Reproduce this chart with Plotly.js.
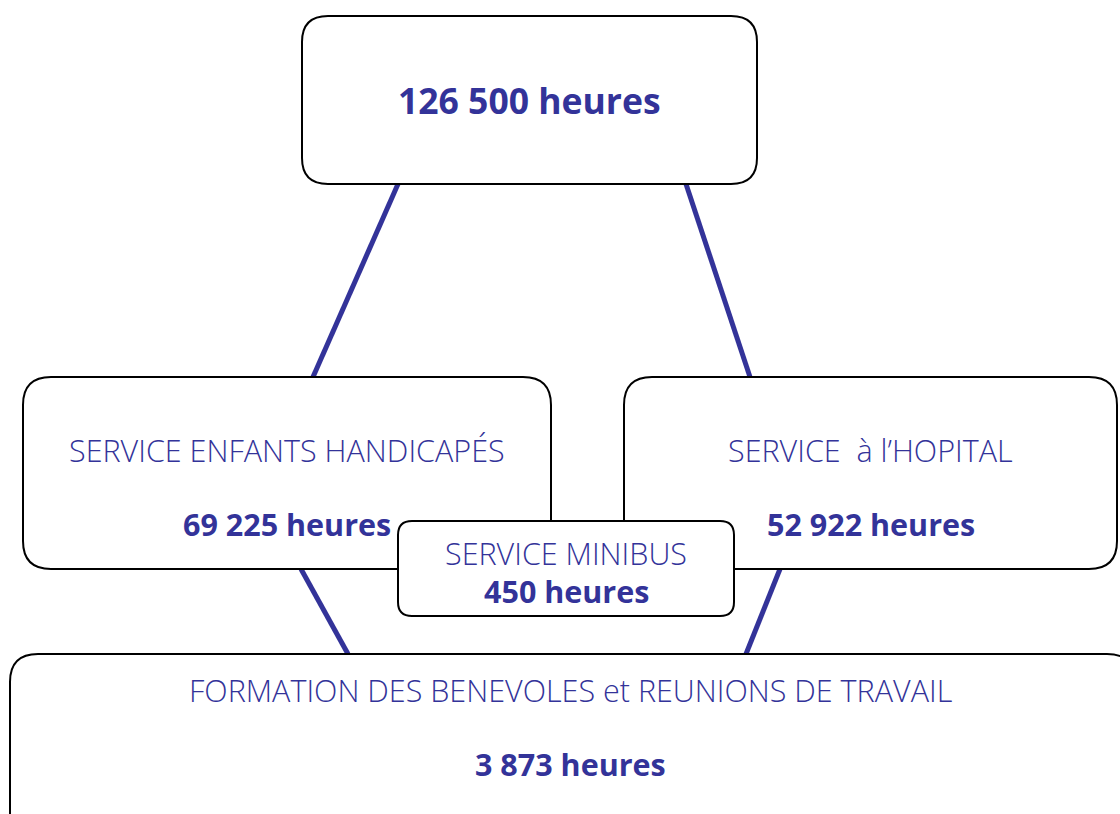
<!DOCTYPE html>
<html><head><meta charset="utf-8">
<script src="https://cdn.plot.ly/plotly-3.0.1.min.js"></script>
<style>html,body{margin:0;padding:0;background:#fff;}#chart{width:1120px;height:814px;}</style>
</head><body><div id="chart"></div>
<script>
// Data
const services = ["TOTAL", "SERVICE ENFANTS HANDICAPÉS", "SERVICE \u00a0à l’HOPITAL", "SERVICE MINIBUS", "FORMATION DES BENEVOLES et REUNIONS DE TRAVAIL"];
const showLabel = [false, true, true, true, true];
const hours = [126500, 69225, 52922, 450, 3873];
const unit = "heures";

// Layout geometry (pixel space of the 1120x814 page)
const boxes = [
  {x0: 302, y0: 16,  x1: 757,  y1: 184, r: 26, labelY: null, valueY: 100, valueSize: 35.5},
  {x0: 23,  y0: 377, x1: 551,  y1: 569, r: 28, labelY: 450,  valueY: 524, valueSize: 30.5},
  {x0: 624, y0: 377, x1: 1117, y1: 569, r: 28, labelY: 450,  valueY: 524, valueSize: 30.5},
  {x0: 398, y0: 521, x1: 734,  y1: 616, r: 14, labelY: 553,  valueY: 591, valueSize: 30.5},
  {x0: 10,  y0: 654, x1: 1135, y1: 860, r: 28, labelY: 690,  valueY: 764, valueSize: 30.5}
];
const connectors = [
  [398, 184, 313, 377],
  [686, 184, 750, 377],
  [301, 569, 348, 654],
  [780, 569, 746, 654]
];

const blue = "#333399";
const labelSize = 30.5;
const fmt = v => String(v).replace(/\B(?=(\d{3})+(?!\d))/g, " ");

function roundRect(b) {
  const {x0, y0, x1, y1, r} = b;
  return `M${x0 + r},${y0} H${x1 - r} Q${x1},${y0} ${x1},${y0 + r} V${y1 - r} Q${x1},${y1} ${x1 - r},${y1} H${x0 + r} Q${x0},${y1} ${x0},${y1 - r} V${y0 + r} Q${x0},${y0} ${x0 + r},${y0} Z`;
}

const shapes = [];
connectors.forEach(c => shapes.push({type: "line", xref: "x", yref: "y", x0: c[0], y0: c[1], x1: c[2], y1: c[3], line: {color: blue, width: 5}, layer: "above"}));
boxes.forEach(b => shapes.push({type: "path", xref: "x", yref: "y", path: roundRect(b), fillcolor: "#ffffff", line: {color: "#000000", width: 2}, layer: "above"}));

const annotations = [];
services.forEach((s, i) => {
  const b = boxes[i];
  const cx = (b.x0 + Math.min(b.x1, 1130)) / 2;
  if (showLabel[i]) {
    annotations.push({x: cx, y: b.labelY, xref: "x", yref: "y", text: s, showarrow: false,
      font: {family: "Open Sans, sans-serif", size: labelSize, color: blue, weight: 300}, xanchor: "center", yanchor: "middle"});
  }
  annotations.push({x: cx, y: b.valueY, xref: "x", yref: "y", text: fmt(hours[i]) + " " + unit, showarrow: false,
    font: {family: "Open Sans, sans-serif", size: b.valueSize, color: blue, weight: 700}, xanchor: "center", yanchor: "middle"});
});

const layout = {
  width: 1120, height: 814,
  margin: {l: 0, r: 0, t: 0, b: 0},
  paper_bgcolor: "#ffffff", plot_bgcolor: "#ffffff",
  xaxis: {range: [0, 1120], visible: false, fixedrange: true},
  yaxis: {range: [814, 0], visible: false, fixedrange: true},
  showlegend: false,
  shapes: shapes,
  annotations: annotations
};

Plotly.newPlot("chart", [{x: [], y: [], type: "scatter", mode: "markers", hoverinfo: "skip"}], layout, {displayModeBar: false, staticPlot: true});
</script>
</body></html>
